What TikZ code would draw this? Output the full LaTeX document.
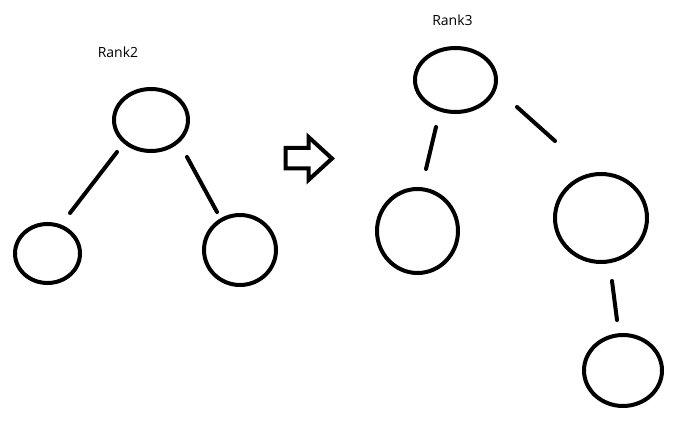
\documentclass[tikz,border=0pt]{standalone}
\usepackage{fontspec}
\setmainfont{Open Sans}
\usetikzlibrary{calc,shapes.geometric}
\tikzset{
  treenode/.style={draw, ellipse, line width=4pt, inner sep=0pt, outer sep=0pt},
  edge/.style={line width=4pt, line cap=round},
  ranklabel/.style={font=\fontsize{14}{16}\selectfont, inner sep=0pt, text=black}
}
\begin{document}
\begin{tikzpicture}[x=1pt, y=-1pt]
\useasboundingbox (0,0) rectangle (681,425);
% left tree (Rank2)
\node[ranklabel] (lab2) at (118,52.5) {Rank2};
\node[treenode, minimum width=74pt, minimum height=62pt] (t1) at (151,120) {};
\node[treenode, minimum width=65pt, minimum height=59pt] (l1) at (47.5,253.5) {};
\node[treenode, minimum width=72pt, minimum height=70pt] (r1) at (240,250) {};
\draw[edge] ($(t1)+(-34,32)$) -- ($(l1)+(22.5,-40.5)$);
\draw[edge] ($(t1)+(36,37)$) -- ($(r1)+(-23,-38)$);
% hollow arrow
\draw[line width=4pt, miter limit=10] (285.5,148) -- (308.5,148) -- (308.5,137) -- (332,158.5) -- (308.5,180) -- (308.5,168.5) -- (285.5,168.5) -- cycle;
% right tree (Rank3)
\node[ranklabel] (lab3) at (452.5,20.5) {Rank3};
\node[treenode, minimum width=81pt, minimum height=64pt] (t2) at (455.5,80) {};
\node[treenode, minimum width=81pt, minimum height=84pt] (l2) at (417.5,231) {};
\node[treenode, minimum width=92pt, minimum height=88pt] (r2) at (601,218) {};
\node[treenode, minimum width=78pt, minimum height=71pt] (b2) at (623,370.5) {};
\draw[edge] ($(t2)+(-19.5,47)$) -- ($(l2)+(8.5,-62)$);
\draw[edge] ($(t2)+(61.5,27)$) -- ($(r2)+(-46,-77)$);
\draw[edge] ($(r2)+(11,63)$) -- ($(b2)+(-6,-50.5)$);
\end{tikzpicture}
\end{document}
